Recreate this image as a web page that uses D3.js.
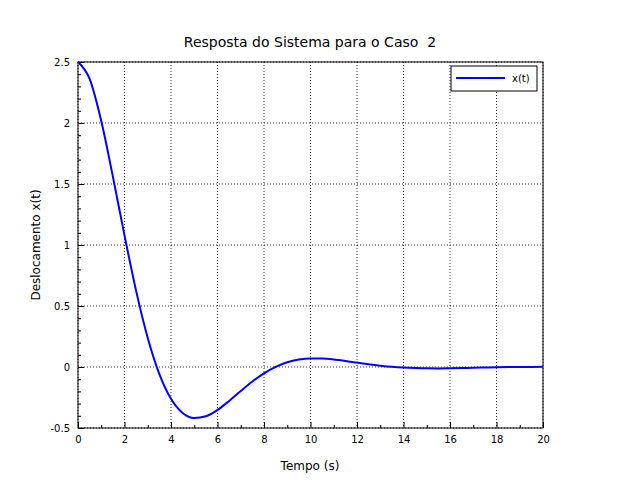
<!DOCTYPE html><html><head><meta charset="utf-8"><script src="https://cdn.jsdelivr.net/npm/d3@7"></script>
<style>body{margin:0;background:#fff}text{font-family:"DejaVu Sans",sans-serif;white-space:pre}</style></head><body><svg id="c" width="620" height="490"></svg>
<script>
const tData=[0,0.5,1,1.5,2,2.5,3,3.5,4,4.5,5,5.5,6,6.5,7,7.5,8,8.5,9,9.5,10,10.5,11,11.5,12,12.5,13,13.5,14,14.5,15,15.5,16,16.5,17,17.5,18,18.5,19,19.5,20];
const xData=[2.5,2.361,2.016,1.561,1.079,0.624,0.238,-0.058,-0.261,-0.377,-0.418,-0.404,-0.352,-0.278,-0.197,-0.119,-0.052,0.001,0.039,0.061,0.070,0.069,0.062,0.050,0.036,0.0225,0.011,0.0015,-0.005,-0.009,-0.011,-0.012,-0.011,-0.009,-0.006,-0.004,-0.002,-0.0005,0.0005,0.001,0.0012];
const xTicks=[0,2,4,6,8,10,12,14,16,18,20];
const yTicks=[-0.5,0,0.5,1,1.5,2,2.5];
const svg=d3.select("#c");
const L=78,R=543,T=62,B=428;
const x=d3.scaleLinear([0,20],[L,R]), y=d3.scaleLinear([-0.5,2.5],[B,T]);
const g=svg.append("g");
g.selectAll(".gx").data(xTicks).join("line").attr("x1",d=>x(d)).attr("x2",d=>x(d)).attr("y1",T).attr("y2",B).attr("stroke","#000").attr("stroke-width",0.8).attr("stroke-dasharray","1,2");
g.selectAll(".gy").data(yTicks).join("line").attr("y1",d=>y(d)).attr("y2",d=>y(d)).attr("x1",L).attr("x2",R).attr("stroke","#000").attr("stroke-width",0.8).attr("stroke-dasharray","1,2");
svg.append("rect").attr("x",L).attr("y",T).attr("width",R-L).attr("height",B-T).attr("fill","none").attr("stroke","#000");
svg.append("g").attr("transform",`translate(0,${B})`).call(d3.axisBottom(x).tickValues(xTicks).tickSize(-6).tickPadding(8).tickFormat(d3.format("d")));
svg.append("g").attr("transform",`translate(0,${B})`).call(d3.axisBottom(x).tickValues(d3.range(1,20,2)).tickSize(-3).tickFormat(""));
svg.append("g").attr("transform",`translate(${L},0)`).call(d3.axisLeft(y).tickValues(yTicks).tickSize(-6).tickPadding(8).tickFormat(d=>d===0?"0":String(d)));
svg.append("g").attr("transform",`translate(${L},0)`).call(d3.axisLeft(y).tickValues(d3.range(-0.4,2.5,0.1).filter(v=>Math.abs(v*2-Math.round(v*2))>0.01)).tickSize(-3).tickFormat(""));
svg.selectAll(".domain").remove();
svg.selectAll(".tick text").attr("font-size",10).attr("font-family","DejaVu Sans");
const line=d3.line().x((d,i)=>x(tData[i])).y(d=>y(d)).curve(d3.curveMonotoneX);
svg.append("path").attr("d",line(xData)).attr("fill","none").attr("stroke","#0000ff").attr("stroke-width",2);
svg.append("text").attr("x",310).attr("y",47).attr("text-anchor","middle").attr("font-size",14).attr("xml:space","preserve").text("Resposta do Sistema para o Caso  2");
svg.append("text").attr("x",310).attr("y",470).attr("text-anchor","middle").attr("font-size",12).text("Tempo (s)");
svg.append("text").attr("transform","translate(40,245) rotate(-90)").attr("text-anchor","middle").attr("font-size",12).text("Deslocamento x(t)");
svg.append("rect").attr("x",451).attr("y",66).attr("width",86).attr("height",25).attr("fill","#fff").attr("stroke","#000");
svg.append("line").attr("x1",456).attr("x2",505).attr("y1",78).attr("y2",78).attr("stroke","#0000ff").attr("stroke-width",2);
svg.append("text").attr("x",512).attr("y",82).attr("font-size",10).text("x(t)");
</script></body></html>
